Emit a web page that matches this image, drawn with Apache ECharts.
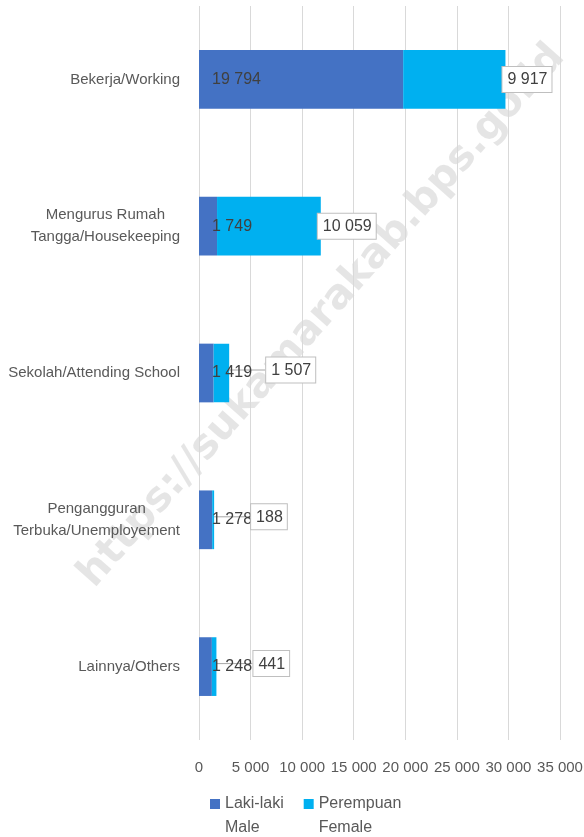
<!DOCTYPE html>
<html>
<head>
<meta charset="utf-8">
<script src="https://cdn.jsdelivr.net/npm/echarts@6/dist/echarts.min.js"></script>
<style>
  html, body { margin: 0; padding: 0; background: #fff; }
  #chart { width: 584px; height: 837px; }
</style>
</head>
<body>
<div id="chart"></div>
<script>
 var categories = ['Bekerja/Working', 'Mengurus Rumah\nTangga/Housekeeping', 'Sekolah/Attending School', 'Pengangguran\nTerbuka/Unemployement', 'Lainnya/Others'];
 var male = [19794, 1749, 1419, 1278, 1248];
 var female = [9917, 10059, 1507, 188, 441];
 var seriesNames = ['Laki-laki\nMale', 'Perempuan\nFemale'];
 var xTicks = [0, 5000, 10000, 15000, 20000, 25000, 30000, 35000];

 var FONT = "'Liberation Sans Narrow', 'Liberation Sans', sans-serif";

 // 19794 -> "19 794"
 function fmt(v) {
   return String(v).replace(/\B(?=(\d{3})+(?!\d))/g, ' ');
 }

 function makeOption() {
   var option = {
     animation: false,
     backgroundColor: '#ffffff',
     color: ['#4472C4', '#00B0F0'],
     textStyle: { fontFamily: FONT },
     graphic: [{
       type: 'text',
       x: 322,
       y: 316,
       rotation: 0.845,
       z: -10,
       style: {
         text: 'https://sukamarakab.bps.go.id',
         font: 'bold 41px "DejaVu Sans", sans-serif',
         fill: 'rgba(0,0,0,0.1)',
         textAlign: 'center',
         textVerticalAlign: 'middle'
       }
     }],
     grid: { left: 199, right: 24, top: 6, bottom: 97, containLabel: false, outerBoundsMode: 'none' },
     legend: {
       left: 205,
       top: 763,
       itemWidth: 10,
       itemHeight: 10,
       itemGap: 20,
       icon: 'rect',
       // blank first line keeps the marker level with the first text line
       formatter: function (name) { return ' \n' + name; },
       textStyle: {
         color: '#595959',
         fontSize: 16,
         fontFamily: FONT,
         lineHeight: 24
       },
       data: seriesNames
     },
     xAxis: {
       type: 'value',
       min: xTicks[0],
       max: xTicks[xTicks.length - 1],
       interval: 5000,
       axisLine: { show: false },
       axisTick: { show: false },
       splitLine: { lineStyle: { color: '#d9d9d9', width: 1 } },
       axisLabel: {
         color: '#595959',
         fontSize: 15,
         margin: 20,
         showMaxLabel: true,
         formatter: function (v) { return fmt(v); }
       }
     },
     yAxis: {
       type: 'category',
       inverse: true,
       data: categories,
       axisLine: { show: false },
       axisTick: { show: false },
       axisLabel: {
         margin: 19,
         formatter: function (v) {
           return v.split('\n').map(function (s) { return '{a|' + s + '}'; }).join('\n');
         },
         rich: {
           a: { color: '#595959', fontSize: 15, lineHeight: 22, align: 'center', fontFamily: FONT }
         }
       }
     },
     series: [
       {
         name: seriesNames[0],
         type: 'bar',
         stack: 'total',
         barCategoryGap: '60%',
         data: male,
         label: {
           show: true,
           position: 'insideLeft',
           distance: 13,
           color: '#404040',
           fontSize: 16,
           formatter: function (p) { return fmt(p.value); }
         }
       },
       {
         name: seriesNames[1],
         type: 'bar',
         stack: 'total',
         barCategoryGap: '60%',
         data: female,
         label: {
           show: true,
           position: 'right',
           distance: -3,
           color: '#404040',
           fontSize: 16,
           backgroundColor: '#ffffff',
           borderColor: '#bfbfbf',
           borderWidth: 1,
           padding: [5, 4, 4, 5],
           formatter: function (p) { return fmt(p.value); }
         },
         labelLine: {
           show: true,
           lineStyle: { color: '#a6a6a6', width: 1 }
         },
         // small slices: push the callout right, with a leader line
         labelLayout: function (p) {
           if (p.dataIndex >= 2) {
             return {
               x: p.labelRect.x + 41,
               y: p.labelRect.y - 2
             };
           }
           return {};
         }
       }
     ]
   };
   return option;
 }

 function setChart(id, option) {
   var myChart = echarts.init(document.getElementById(id));
   myChart.setOption(option);
 }

 setChart('chart', makeOption());
</script>
</body>
</html>
